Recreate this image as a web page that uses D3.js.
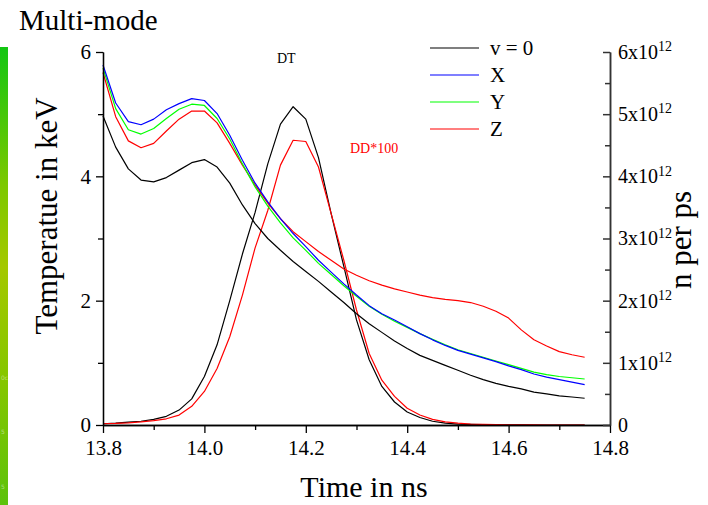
<!DOCTYPE html>
<html>
<head>
<meta charset="utf-8">
<script src="https://cdn.jsdelivr.net/npm/d3@7"></script>
<style>
  html, body { margin: 0; padding: 0; background: #fff; }
  svg { display: block; font-family: "Liberation Serif", "Times New Roman", serif; }
</style>
</head>
<body>
<svg id="chart" width="708" height="505"></svg>
<script>
// Time samples (ns)
const time = [13.800, 13.825, 13.850, 13.875, 13.900, 13.925, 13.950, 13.975, 14.000, 14.025,
              14.050, 14.075, 14.100, 14.125, 14.150, 14.175, 14.200, 14.225, 14.250, 14.275,
              14.300, 14.325, 14.350, 14.375, 14.400, 14.425, 14.450, 14.475, 14.500, 14.525,
              14.550, 14.575, 14.600, 14.625, 14.650, 14.675, 14.700, 14.725, 14.750];

// Ion temperature (keV) for each run
const tempV0 = [4.97, 4.47, 4.12, 3.94, 3.91, 3.98, 4.10, 4.22, 4.27, 4.15,
                3.89, 3.54, 3.24, 3.00, 2.81, 2.63, 2.47, 2.31, 2.14, 1.97,
                1.79, 1.63, 1.49, 1.35, 1.23, 1.12, 1.04, 0.96, 0.88, 0.80,
                0.73, 0.67, 0.62, 0.58, 0.53, 0.50, 0.47, 0.45, 0.43];
const tempX  = [5.79, 5.18, 4.88, 4.83, 4.92, 5.07, 5.17, 5.25, 5.22, 5.01,
                4.66, 4.26, 3.89, 3.59, 3.32, 3.08, 2.87, 2.65, 2.46, 2.27,
                2.09, 1.92, 1.79, 1.69, 1.58, 1.47, 1.37, 1.28, 1.20, 1.14,
                1.08, 1.02, 0.95, 0.89, 0.82, 0.77, 0.73, 0.69, 0.65];
const tempY  = [5.74, 5.09, 4.75, 4.68, 4.77, 4.93, 5.08, 5.16, 5.14, 4.93,
                4.60, 4.20, 3.83, 3.52, 3.25, 3.01, 2.81, 2.60, 2.42, 2.24,
                2.07, 1.91, 1.78, 1.67, 1.57, 1.47, 1.38, 1.29, 1.21, 1.15,
                1.09, 1.03, 0.97, 0.91, 0.85, 0.81, 0.78, 0.76, 0.74];
const tempZ  = [5.67, 4.96, 4.57, 4.46, 4.53, 4.73, 4.92, 5.05, 5.05, 4.86,
                4.53, 4.18, 3.86, 3.57, 3.32, 3.11, 2.95, 2.79, 2.65, 2.51,
                2.41, 2.32, 2.25, 2.19, 2.14, 2.09, 2.05, 2.02, 2.00, 1.97,
                1.91, 1.83, 1.72, 1.53, 1.37, 1.27, 1.18, 1.13, 1.09];

// Neutron rates (x10^12 n per ps)
const neutronDT = [0.02, 0.03, 0.045, 0.06, 0.09, 0.14, 0.24, 0.42, 0.78, 1.29,
                   2.00, 2.75, 3.42, 4.20, 4.84, 5.12, 4.92, 4.30, 3.40, 2.55,
                   1.69, 1.05, 0.62, 0.37, 0.21, 0.12, 0.06, 0.03, 0.015, 0.01,
                   0.005, 0.003, 0.002, 0.001, 0, 0, 0, 0, 0];
const neutronDD100 = [0.02, 0.025, 0.035, 0.05, 0.07, 0.10, 0.16, 0.30, 0.54, 0.91,
                      1.42, 2.09, 2.85, 3.45, 4.18, 4.58, 4.56, 4.15, 3.40, 2.65,
                      1.85, 1.15, 0.72, 0.46, 0.27, 0.16, 0.09, 0.05, 0.03, 0.015,
                      0.01, 0.005, 0.003, 0.002, 0.001, 0, 0, 0, 0];

// Axis ticks
const xTicks = [13.8, 14.0, 14.2, 14.4, 14.6, 14.8];
const xMinorTicks = [13.9, 14.1, 14.3, 14.5, 14.7];
const yTicks = [0, 2, 4, 6];
const yMinorTicks = [1, 3, 5];
const yRTicks = [0, 1, 2, 3, 4, 5, 6];
const yRMinorTicks = [0.5, 1.5, 2.5, 3.5, 4.5, 5.5];

// Legend
const legendLabels = ["v = 0", "X", "Y", "Z"];
const legendColors = ["#000000", "#0000ff", "#00ff00", "#ff0000"];

const svg = d3.select("#chart");
const plotLeft = 103, plotRight = 610, plotTop = 52, plotBottom = 425;

const x = d3.scaleLinear().domain([13.8, 14.8]).range([plotLeft, plotRight]);
const y = d3.scaleLinear().domain([0, 6]).range([plotBottom, plotTop]);
const yR = d3.scaleLinear().domain([0, 6]).range([plotBottom, plotTop]);

svg.append("rect").attr("width", 708).attr("height", 505).attr("fill", "#fff");

// Green strip along the left edge
const defs = svg.append("defs");
const grad = defs.append("linearGradient").attr("id", "strip")
  .attr("x1", 0).attr("y1", 0).attr("x2", 0).attr("y2", 1);
[["0%", "#12c612"], ["30%", "#7cc800"], ["48%", "#a4c800"], ["75%", "#82c600"], ["100%", "#5cc20c"]]
  .forEach(([o, c]) => grad.append("stop").attr("offset", o).attr("stop-color", c));
svg.append("rect").attr("x", 0).attr("y", 47).attr("width", 8).attr("height", 458)
  .attr("fill", "url(#strip)");
const stripText = svg.append("g").attr("fill", "#ffffff").attr("fill-opacity", 0.45)
  .attr("font-family", "DejaVu Sans, sans-serif").attr("font-size", 6);
[["0c", 380], ["5", 434], ["5", 489]].forEach(([t, yy]) =>
  stripText.append("text").attr("x", 1).attr("y", yy).text(t));

// Curves
const lineT = d3.line().x((d, i) => x(time[i])).y(d => y(d));
const lineN = d3.line().x((d, i) => x(time[i])).y(d => yR(d));

const plot = svg.append("g").attr("fill", "none").attr("stroke-width", 1.2)
  .attr("stroke-linejoin", "round");
plot.append("path").datum(neutronDT).attr("stroke", "#000").attr("d", lineN);
plot.append("path").datum(neutronDD100).attr("stroke", "#ff0000").attr("d", lineN);
plot.append("path").datum(tempV0).attr("stroke", "#000").attr("d", lineT);
plot.append("path").datum(tempZ).attr("stroke", "#ff0000").attr("d", lineT);
plot.append("path").datum(tempY).attr("stroke", "#00ff00").attr("d", lineT);
plot.append("path").datum(tempX).attr("stroke", "#0000ff").attr("d", lineT);

// Axes
function styleAxis(g, color, width) {
  g.select(".domain").attr("stroke", color).attr("stroke-width", width);
  g.selectAll(".tick line").attr("stroke", color).attr("stroke-width", width);
  g.selectAll(".tick text").attr("fill", "#000").attr("font-family", "Liberation Serif, serif");
}

const xAxis = svg.append("g").attr("transform", `translate(0,${plotBottom})`)
  .call(d3.axisBottom(x).tickValues(xTicks).tickFormat(d3.format(".1f"))
    .tickSize(8).tickSizeOuter(0).tickPadding(7))
  .attr("font-size", 21);
styleAxis(xAxis, "#000", 1.3);
const xAxisMinor = svg.append("g").attr("transform", `translate(0,${plotBottom})`)
  .call(d3.axisBottom(x).tickValues(xMinorTicks).tickFormat("").tickSize(5).tickSizeOuter(0));
styleAxis(xAxisMinor, "#000", 1.3);

const yAxis = svg.append("g").attr("transform", `translate(${plotLeft},0)`)
  .call(d3.axisLeft(y).tickValues(yTicks).tickFormat(d3.format("d"))
    .tickSize(7).tickSizeOuter(0).tickPadding(5))
  .attr("font-size", 21);
styleAxis(yAxis, "#000", 1.3);
const yAxisMinor = svg.append("g").attr("transform", `translate(${plotLeft},0)`)
  .call(d3.axisLeft(y).tickValues(yMinorTicks).tickFormat("").tickSize(5).tickSizeOuter(0));
styleAxis(yAxisMinor, "#000", 1.3);

const yRAxis = svg.append("g").attr("transform", `translate(${plotRight},0)`)
  .call(d3.axisRight(yR).tickValues(yRTicks).tickSize(-7).tickSizeOuter(0).tickPadding(8))
  .attr("font-size", 20);
styleAxis(yRAxis, "#333", 1.5);
yRAxis.selectAll(".tick text").each(function (d) {
  const t = d3.select(this).text(null);
  if (d === 0) { t.text("0"); return; }
  t.append("tspan").text(`${d}x10`);
  t.append("tspan").attr("font-size", 14).attr("dy", "-0.55em").text("12");
});
const yRAxisMinor = svg.append("g").attr("transform", `translate(${plotRight},0)`)
  .call(d3.axisRight(yR).tickValues(yRMinorTicks).tickFormat("").tickSize(-5).tickSizeOuter(0));
styleAxis(yRAxisMinor, "#333", 1.5);

// Titles
svg.append("text").attr("x", 19).attr("y", 30).attr("font-size", 29).text("Multi-mode");
svg.append("text").attr("transform", "translate(57,216) rotate(-90)")
  .attr("text-anchor", "middle").attr("font-size", 31).text("Temperatue in keV");
svg.append("text").attr("transform", "translate(691,240) rotate(-90)")
  .attr("text-anchor", "middle").attr("font-size", 31).text("n per ps");
svg.append("text").attr("x", 364).attr("y", 497)
  .attr("text-anchor", "middle").attr("font-size", 30).text("Time in ns");

// Curve annotations
svg.append("text").attr("x", 277).attr("y", 63).attr("font-size", 14).text("DT");
svg.append("text").attr("x", 350).attr("y", 153).attr("font-size", 14)
  .attr("fill", "#ff0000").text("DD*100");

// Legend
const legend = svg.append("g");
legendLabels.forEach((lab, i) => {
  const ly = 48 + i * 27;
  legend.append("line").attr("x1", 430).attr("x2", 479).attr("y1", ly).attr("y2", ly)
    .attr("stroke", legendColors[i]).attr("stroke-width", 1.2);
  legend.append("text").attr("x", 490).attr("y", ly + 7).attr("font-size", 21).text(lab);
});
</script>
</body>
</html>
